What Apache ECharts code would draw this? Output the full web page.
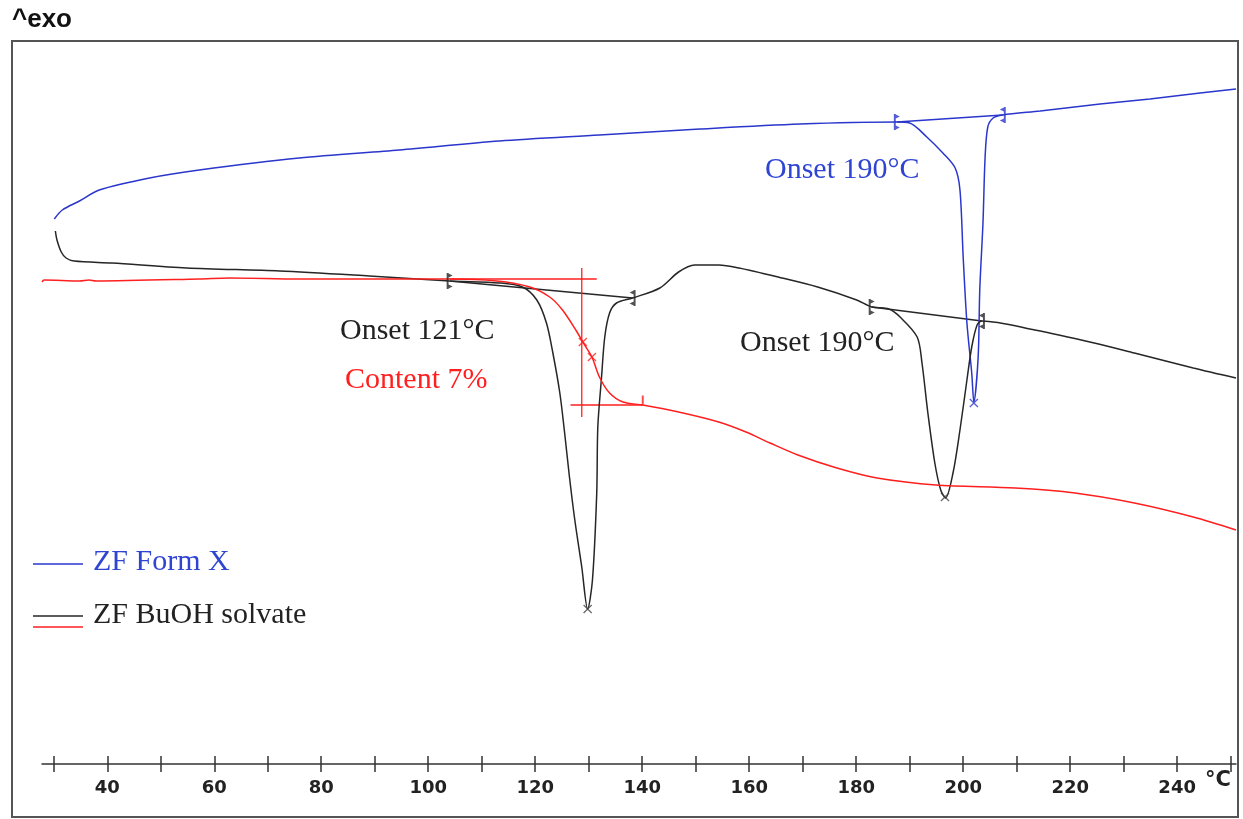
<!DOCTYPE html>
<html>
<head>
<meta charset="utf-8">
<title>DSC ZF</title>
<script src="https://cdn.jsdelivr.net/npm/echarts@6/dist/echarts.min.js"></script>
<style>
html, body { margin: 0; padding: 0; background: #fff; }
#chart { width: 1243px; height: 819px; }
</style>
</head>
<body>
<div id="chart"></div>
<script>
// DSC curves, temperature in °C, heat flow in arbitrary units (exo up)
const formXTemp = [30.1, 31.6, 34.8, 38.5, 47.9, 57.2, 75.9, 94.6, 113.3, 132.0, 150.8, 169.5, 187.6, 190.0, 193.2, 196.2, 198.5, 199.4, 200.0, 200.7, 201.6, 202.0, 202.8, 203.1, 203.7, 204.1, 204.6, 205.6, 207.4, 214.4, 225.6, 234.9, 244.3, 251.0];
const formXFlow = [54.5, 55.4, 56.3, 57.4, 58.6, 59.4, 60.6, 61.4, 62.3, 62.9, 63.5, 64.0, 64.2, 64.1, 62.7, 61.1, 59.6, 57.4, 50.7, 44.1, 39.1, 36.2, 40.7, 47.4, 54.1, 60.7, 63.7, 64.6, 64.9, 65.3, 66.0, 66.5, 67.1, 67.5];

const buohTemp = [30.3, 30.6, 31.4, 32.3, 33.8, 40.9, 54.8, 72.2, 89.0, 104.0, 113.3, 117.6, 120.3, 122.1, 123.3, 124.6, 125.5, 126.4, 127.4, 128.7, 129.8, 130.7, 131.5, 131.7, 132.4, 133.0, 133.9, 135.2, 138.2, 143.3, 146.8, 149.8, 154.3, 158.1, 165.4, 172.8, 180.1, 182.9, 186.1, 188.2, 191.4, 192.3, 193.4, 194.7, 195.8, 196.7, 198.1, 199.4, 200.7, 201.6, 202.6, 203.5, 213.4, 224.5, 232.0, 243.0, 251.0];
const buohFlow = [53.3, 52.4, 51.2, 50.6, 50.3, 50.1, 49.6, 49.3, 48.8, 48.3, 48.1, 47.7, 46.4, 44.1, 41.1, 37.1, 33.1, 28.7, 24.4, 19.7, 15.5, 18.4, 27.1, 33.7, 38.7, 42.7, 45.1, 46.1, 46.6, 47.6, 49.2, 49.9, 49.9, 49.6, 48.7, 47.7, 46.4, 45.7, 45.5, 44.7, 42.7, 40.1, 35.1, 30.1, 27.4, 26.6, 29.1, 33.4, 38.4, 41.7, 43.9, 44.3, 43.4, 42.1, 41.1, 39.6, 38.6];

const tgaTemp = [27.8, 28.2, 34.8, 36.6, 37.9, 57.2, 62.8, 75.9, 104.0, 112.8, 119.0, 122.7, 125.1, 127.7, 128.9, 130.6, 132.0, 133.9, 136.4, 140.1, 146.8, 154.3, 159.4, 163.9, 169.1, 176.4, 183.9, 194.9, 209.7, 220.9, 232.0, 243.0, 251.0];
const tgaFlow = [48.2, 48.4, 48.3, 48.4, 48.3, 48.5, 48.6, 48.5, 48.5, 48.3, 47.7, 46.7, 45.4, 43.3, 42.2, 40.7, 38.7, 37.1, 36.2, 35.9, 35.2, 34.2, 33.2, 32.1, 30.9, 29.6, 28.6, 27.9, 27.6, 27.1, 26.1, 24.7, 23.4];

// evaluation limits (onset brackets) and peak points
const formXLimits = [[187.6, 64.2], [207.4, 64.9]];
const formXPeak = [[202.0, 36.1]];
const buohLimitsA = [[104.0, 48.3], [138.2, 46.6]];
const buohLimitsB = [[182.9, 45.7], [203.5, 44.3]];
const buohPeaks = [[129.8, 15.5], [196.6, 26.7]];
const tgaSteps = [[128.9, 42.2], [130.6, 40.7]];
const tgaUpper = [[104.0, 48.5], [131.5, 48.5]];
const tgaVertical = [[128.7, 49.6], [128.7, 34.7]];
const tgaLower = [[126.6, 35.9], [140.1, 35.9]];
const tgaEnd = [[140.1, 36.4]];

// axis
const tickValues = [30, 40, 50, 60, 70, 80, 90, 100, 110, 120, 130, 140, 150, 160, 170, 180, 190, 200, 210, 220, 230, 240, 250];
const labelValues = [40, 60, 80, 100, 120, 140, 160, 180, 200, 220, 240];

const BLUE = '#2a36cc';
const BLACK = '#262626';
const RED = '#ff1f1f';
const SERIF = '"Liberation Serif", "DejaVu Serif", serif';

const zip = (a, b) => a.map((v, i) => [v, b[i]]);

const bracketL = 'path://M0,0 L1.6,0 L1.6,16 L0,16 Z M1.6,0.5 L5,2.5 L1.6,4.5 Z M1.6,11.5 L5,13.5 L1.6,15.5 Z';
const bracketR = 'path://M3.4,0 L5,0 L5,16 L3.4,16 Z M3.4,0.5 L0,2.5 L3.4,4.5 Z M3.4,11.5 L0,13.5 L3.4,15.5 Z';
const cross = 'path://M0,1 L1,0 L5,4 L9,0 L10,1 L6,5 L10,9 L9,10 L5,6 L1,10 L0,9 L4,5 Z';

function curve(name, data, color) {
  return {
    name: name, type: 'line', data: data, showSymbol: false, silent: true,
    smooth: 0.3,
    lineStyle: { color: color, width: 1.5 }, z: 3
  };
}
function segment(data, color) {
  return {
    type: 'line', data: data, showSymbol: false, silent: true,
    lineStyle: { color: color, width: 1.3 }, z: 2
  };
}
function marks(data, symbol, size, color) {
  return {
    type: 'scatter', data: data, symbol: symbol, symbolSize: size, silent: true,
    itemStyle: { color: color }, z: 4
  };
}

const chart = echarts.init(document.getElementById('chart'));

const option = {
  animation: false,
  backgroundColor: '#fff',
  grid: { left: 42, right: 7, top: 41, bottom: 55, containLabel: false },
  xAxis: [
    {
      type: 'value', min: 27.8, max: 251, position: 'bottom',
      splitLine: { show: false },
      axisLine: { show: true, lineStyle: { color: '#333', width: 1.5 } },
      axisTick: { show: true, customValues: tickValues, length: 8, lineStyle: { color: '#333', width: 1.5 } },
      axisLabel: {
        customValues: labelValues, margin: 15,
        fontFamily: '"DejaVu Sans", Verdana, sans-serif', fontSize: 18, fontWeight: 'bold', color: '#222'
      }
    },
    {
      type: 'value', min: 27.8, max: 251, position: 'bottom',
      splitLine: { show: false },
      axisLine: { show: false },
      axisTick: { show: true, inside: true, customValues: tickValues, length: 8, lineStyle: { color: '#333', width: 1.5 } },
      axisLabel: { show: false }
    }
  ],
  yAxis: { type: 'value', min: 0, max: 72.3, show: false },
  series: [
    curve('ZF Form X', zip(formXTemp, formXFlow), BLUE),
    curve('ZF BuOH solvate', zip(buohTemp, buohFlow), BLACK),
    curve('ZF BuOH solvate TGA', zip(tgaTemp, tgaFlow), RED),
    segment(formXLimits, BLUE),
    segment(buohLimitsA, BLACK),
    segment(buohLimitsB, BLACK),
    segment(tgaUpper, RED),
    segment(tgaVertical, RED),
    segment(tgaLower, RED),
    marks([formXLimits[0]], bracketL, [6, 16], BLUE),
    marks([formXLimits[1]], bracketR, [6, 16], BLUE),
    marks([buohLimitsA[0], buohLimitsB[0]], bracketL, [6, 16], BLACK),
    marks([buohLimitsA[1], buohLimitsB[1]], bracketR, [6, 16], BLACK),
    marks(formXPeak, cross, 9, BLUE),
    marks(buohPeaks, cross, 9, '#444'),
    marks(tgaSteps, cross, 9, RED),
    marks(tgaEnd, 'rect', [2, 9], RED)
  ],
  graphic: [
    { type: 'rect', shape: { x: 12, y: 41, width: 1226, height: 776 }, style: { fill: 'none', stroke: '#555', lineWidth: 2 }, silent: true },
    { type: 'text', left: 12, top: 7, style: { text: '^exo', font: 'bold 26px "Liberation Sans", Arial, sans-serif', fill: '#111' } },
    { type: 'text', left: 1205, top: 770, style: { text: '°C', font: 'bold 21px "DejaVu Sans", sans-serif', fill: '#222' } },
    { type: 'text', left: 765, top: 155, style: { text: 'Onset 190°C', font: '30px ' + SERIF, fill: '#2f45d2' } },
    { type: 'text', left: 340, top: 316, style: { text: 'Onset 121°C', font: '30px ' + SERIF, fill: '#222' } },
    { type: 'text', left: 345, top: 365, style: { text: 'Content 7%', font: '30px ' + SERIF, fill: RED } },
    { type: 'text', left: 740, top: 328, style: { text: 'Onset 190°C', font: '30px ' + SERIF, fill: '#222' } },
    { type: 'line', shape: { x1: 33, y1: 564, x2: 83, y2: 564 }, style: { stroke: BLUE, lineWidth: 1.5 } },
    { type: 'text', left: 93, top: 547, style: { text: 'ZF Form X', font: '30px ' + SERIF, fill: '#2f45d2' } },
    { type: 'line', shape: { x1: 33, y1: 616, x2: 83, y2: 616 }, style: { stroke: BLACK, lineWidth: 1.5 } },
    { type: 'line', shape: { x1: 33, y1: 627, x2: 83, y2: 627 }, style: { stroke: RED, lineWidth: 1.5 } },
    { type: 'text', left: 93, top: 600, style: { text: 'ZF BuOH solvate', font: '30px ' + SERIF, fill: '#222' } }
  ]
};

chart.setOption(option);
window.addEventListener('resize', () => chart.resize());
</script>
</body>
</html>
